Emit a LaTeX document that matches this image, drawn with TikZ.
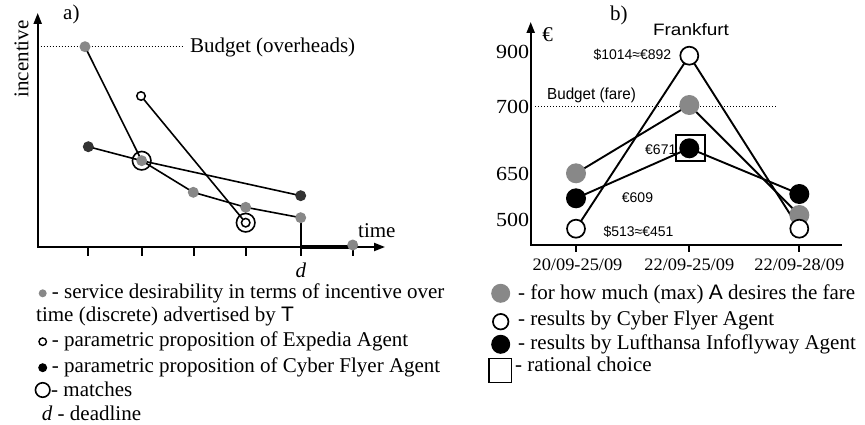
\documentclass[tikz,border=0pt]{standalone}
\usepackage{fontspec}
\usepackage{graphicx}
\setmainfont{Liberation Serif}
\newfontfamily\sansfam{Liberation Sans}
\usetikzlibrary{arrows.meta,backgrounds}
\definecolor{dotgray}{RGB}{136,136,136}
\definecolor{dotdark}{RGB}{51,51,51}
\newcommand\stretchx[2]{\scalebox{#1}[1]{#2}}
\newcommand\fsz[1]{\fontsize{#1pt}{#1pt}\selectfont}

\begin{document}
\begin{tikzpicture}[x=1pt,y=-1pt,
  axis/.style={line width=2pt},
  tipA/.style={{Triangle[length=11pt,width=8pt]}-{Triangle[length=11pt,width=8pt]}},
  tipB/.style={{Triangle[length=11pt,width=8pt]}-},
  pline/.style={line width=1.6pt},
  bline/.style={line width=1.9pt},
  budget/.style={line width=1.2pt, dash pattern=on 1.2pt off 1.8pt},
  gdot/.style={circle, fill=dotgray, inner sep=0pt, minimum size=11pt},
  ddot/.style={circle, fill=dotdark, inner sep=0pt, minimum size=11pt},
  odot/.style={circle, draw, fill=white, line width=1.5pt, inner sep=0pt, minimum size=8.5pt},
  matchc/.style={circle, draw, line width=1.6pt, inner sep=0pt, minimum size=18.5pt},
  bopen/.style={circle, draw, fill=white, line width=1.7pt, inner sep=0pt, minimum size=18pt},
  bgray/.style={circle, fill=dotgray, inner sep=0pt, minimum size=20pt},
  bblack/.style={circle, fill=black, inner sep=0pt, minimum size=20pt},
  choice/.style={draw, line width=1.7pt, inner sep=0pt},
  txt/.style={inner sep=0pt, anchor=base west, font=\fsz{21}},
  txtb/.style={inner sep=0pt, anchor=base west, font=\fsz{21}},
  lab/.style={inner sep=0pt, anchor=base west, font=\sansfam\fsz{14}},
]
\useasboundingbox (0,0) rectangle (865,425);

% ---------------- panel a: incentive over time ----------------
\coordinate (atop) at (37.7,13);
\coordinate (aend) at (385,247);
\coordinate (dlbot) at (300.7,256);
\coordinate (dlax) at (300.7,247);
\coordinate (thickend) at (350,247);

\node[gdot] (g1) at (85,46.7) {};
\node[gdot] (g2) at (141.7,160.7) {};
\node[gdot] (g3) at (193.3,192.3) {};
\node[gdot] (g4) at (245.7,207.3) {};
\node[gdot] (g5) at (300.7,217.7) {};
\node[gdot] (g6) at (352.7,245) {};
\node[ddot] (k1) at (88.3,146.7) {};
\node[ddot] (k2) at (300.7,195.7) {};
\node[odot] (e1) at (141,96) {};
\node[odot] (e2) at (245.7,222.7) {};
\node[matchc] (m1) at (g2) {};
\node[matchc] (m2) at (e2) {};

\begin{pgfonlayer}{background}
  \draw[axis,tipA] (atop) |- (aend);
  \foreach \tx in {88,142,194,246,353}
    \draw[axis] (\tx,247) -- (\tx,256);
  \draw[axis] (g5.center) -- (dlbot);
  \draw[line width=4pt] (dlax) -- (thickend);
  \draw[budget] (37.7,46.7) -- (182,46.7);
  \draw[pline] (g1.center) -- (g2.center) -- (g3.center) -- (g4.center) -- (g5.center);
  \draw[pline] (k1.center) -- (g2.center) -- (k2.center);
  \draw[pline] (e1.center) -- (e2.center);
\end{pgfonlayer}

\node[txt] (alabel) at (63,19.5) {a)};
\node[inner sep=0pt, anchor=base, rotate=90, font=\fsz{21}] (ylab) at (28.3,59) {incentive};
\node[txt] (abudget) at (190,52.7) {Budget (overheads)};
\node[txt] (time) at (358,237) {time};
\node[inner sep=0pt, anchor=base, font=\fsz{21}] (dd) at (301,277) {\textit{d}};

% legend of panel a
\node[gdot, minimum size=8pt] (lg) at (42.7,293.3) {};
\node[txt] (lt1) at (51.7,298.3) {- service desirability in terms of incentive over};
\node[txt] (lt2) at (36,321) {time (discrete) advertised by {\sansfam T}};
\node[odot, minimum size=7.5pt, line width=1.4pt] (lo) at (42.7,341.7) {};
\node[txt] (lt3) at (51.7,346) {- parametric proposition of Expedia Agent};
\node[circle, fill=black, inner sep=0pt, minimum size=9pt] (lk) at (42.7,367.7) {};
\node[txt] (lt4) at (51.7,372.3) {- parametric proposition of Cyber Flyer Agent};
\node[matchc, minimum size=14.5pt] (lm) at (42.7,390) {};
\node[txt] (lt5) at (51,396.7) {- matches};
\node[txt] (lt6) at (41.7,420) {\textit{d} - deadline};

% ---------------- panel b: fares for Frankfurt ----------------
\coordinate (btop) at (530.7,22);
\coordinate (bend) at (841.7,244.5);

\node[bgray] (h1) at (576,173.3) {};
\node[bgray] (h2) at (689.3,105) {};
\node[bgray] (h3) at (799.3,215) {};
\node[bblack] (b1) at (576,198.3) {};
\node[bblack] (b2) at (689.3,148.3) {};
\node[bblack] (b3) at (799.3,194) {};
\node[bopen] (o1) at (576,228.7) {};
\node[bopen] (o2) at (689.3,55.7) {};
\node[bopen] (o3) at (799.3,228.7) {};
\node[choice, minimum width=29pt, minimum height=26pt] (sq) at (690.5,148) {};

\begin{pgfonlayer}{background}
  \draw[axis,tipB] (btop) |- (bend);
  \foreach \tx in {576,689.3,799.3}
    \draw[axis] (\tx,244.5) -- (\tx,252);
  \draw[budget] (535,106.7) -- (776.7,106.7);
  \draw[bline] (o1.center) -- (o2.center) -- (o3.center);
  \draw[bline] (h1.center) -- (h2.center) -- (h3.center);
  \draw[bline] (b1.center) -- (b2.center) -- (b3.center);
\end{pgfonlayer}

\node[txt] (blabel) at (610,20.5) {b)};
\node[inner sep=0pt, anchor=base, font=\fsz{21}] (eur) at (547.5,42) {€};
\node[inner sep=0pt, anchor=base, font=\sansfam\fsz{16.5}] (city) at (691,35.7) {\stretchx{1.15}{Frankfurt}};
\node[inner sep=0pt, anchor=base east, font=\fsz{20}] (y900) at (529.3,58.3) {\stretchx{1.1}{900}};
\node[inner sep=0pt, anchor=base east, font=\fsz{20}] (y700) at (529.3,113.3) {\stretchx{1.1}{700}};
\node[inner sep=0pt, anchor=base east, font=\fsz{20}] (y650) at (529.3,180) {\stretchx{1.1}{650}};
\node[inner sep=0pt, anchor=base east, font=\fsz{20}] (y500) at (529.3,226.7) {\stretchx{1.1}{500}};
\node[inner sep=0pt, anchor=base, font=\fsz{17.5}] (x1) at (577.5,270) {\stretchx{1.05}{20/09-25/09}};
\node[inner sep=0pt, anchor=base, font=\fsz{17.5}] (x2) at (689.3,270) {\stretchx{1.05}{22/09-25/09}};
\node[inner sep=0pt, anchor=base, font=\fsz{17.5}] (x3) at (799.3,270) {\stretchx{1.05}{22/09-28/09}};
\node[inner sep=0pt, anchor=base west, font=\sansfam\fsz{16}] (bbudget) at (547,99.3) {\stretchx{0.95}{Budget (fare)}};
\node[lab] (p892) at (593.3,59.3) {\$1014≈€892};
\node[lab] (p671) at (645,154) {€671};
\node[lab] (p609) at (621.7,202.7) {€609};
\node[lab] (p451) at (603.3,236) {\$513≈€451};

% legend of panel b
\node[bgray, minimum size=19pt] (lbg) at (500.7,293.3) {};
\node[txtb] (lb1) at (518,299) {- for how much (max) {\sansfam A} desires the fare};
\node[bopen, minimum size=15.5pt] (lbo) at (500.7,321.7) {};
\node[txtb] (lb2) at (518,325) {- results by Cyber Flyer Agent};
\node[bblack, minimum size=19pt] (lbk) at (500.7,344.3) {};
\node[txtb] (lb3) at (518,349) {- results by Lufthansa Infoflyway Agent};
\node[choice, minimum width=22.5pt, minimum height=24pt] (lbs) at (500.3,370.5) {};
\node[txtb] (lb4) at (515,371.7) {- rational choice};
\end{tikzpicture}
\end{document}
